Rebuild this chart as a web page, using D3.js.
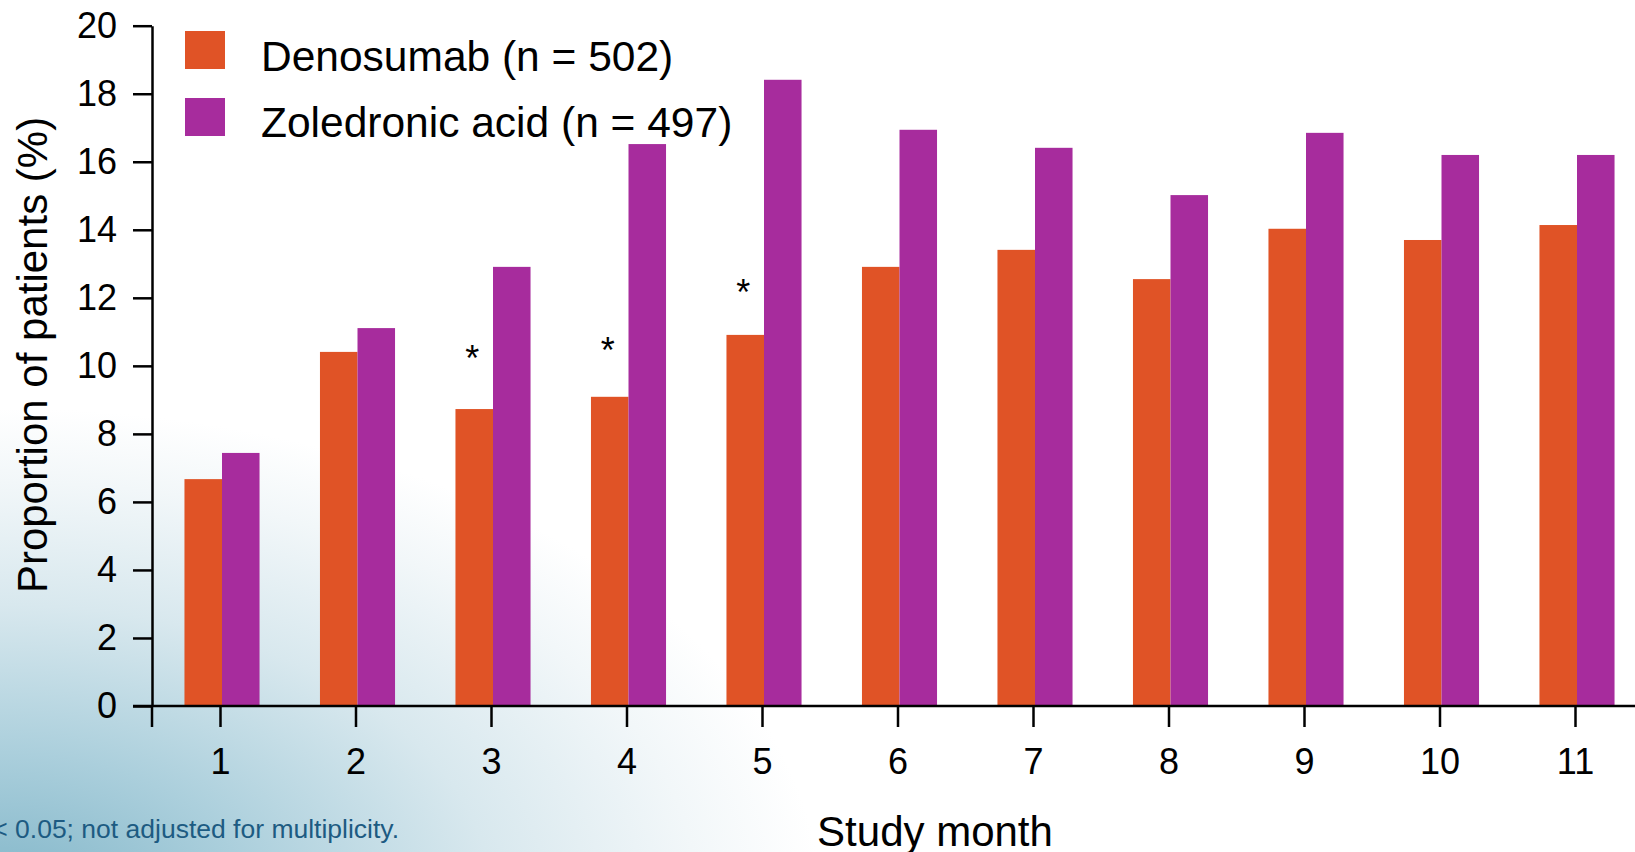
<!DOCTYPE html>
<html>
<head>
<meta charset="utf-8">
<script src="https://cdn.jsdelivr.net/npm/d3@7/dist/d3.min.js"></script>
<style>
  html, body { margin: 0; padding: 0; background: #ffffff; }
  svg { display: block; font-family: "Liberation Sans", Arial, sans-serif; }
</style>
</head>
<body>
<svg id="chart" width="1635" height="852"></svg>
<script>
// Study months on the x axis
const months = ["1", "2", "3", "4", "5", "6", "7", "8", "9", "10", "11"];
// Proportion of patients (%) per month, by treatment arm
const denosumab  = [6.67, 10.41, 8.73, 9.09, 10.91, 12.91, 13.41, 12.55, 14.03, 13.70, 14.14];
const zoledronic = [7.44, 11.11, 12.91, 16.52, 18.41, 16.94, 16.41, 15.02, 16.85, 16.20, 16.20];
const seriesNames = ["Denosumab (n = 502)", "Zoledronic acid (n = 497)"];
const seriesColors = ["#e05326", "#a72c9d"];
const yTicks = [0, 2, 4, 6, 8, 10, 12, 14, 16, 18, 20];
// Months flagged as significant, and the level where each asterisk sits
const sigMonths = ["3", "4", "5"];
const sigLevels = [10.35, 10.59, 12.29];
const footnote = "*P < 0.05; not adjusted for multiplicity.";

const W = 1635, H = 852;
const svg = d3.select("#chart");

// Soft blue wash in the lower-left corner
const defs = svg.append("defs");
const grad = defs.append("radialGradient")
  .attr("id", "wash")
  .attr("gradientUnits", "userSpaceOnUse")
  .attr("cx", 0).attr("cy", 900).attr("r", 820)
  .attr("gradientTransform", "translate(0,900) scale(1,0.6) translate(0,-900)");
[[0, "#80b5c8"], [0.3, "#abcfdc"], [0.6, "#d8e8ee"], [0.85, "#f2f7f9"], [1, "#ffffff"]]
  .forEach(([o, c]) => grad.append("stop").attr("offset", o).attr("stop-color", c));
svg.append("rect").attr("width", W).attr("height", H).attr("fill", "#ffffff");
svg.append("rect").attr("width", W).attr("height", H).attr("fill", "url(#wash)");

const axisX = 152;          // position of the y axis
const y = d3.scaleLinear().domain([0, 20]).range([706, 25.7]);
const x = d3.scalePoint().domain(months).range([222, 1577]);
const bw = x.step() * 0.277;

// Bars
const g = svg.append("g");
g.selectAll("rect.den").data(months).join("rect")
  .attr("class", "den")
  .attr("x", d => x(d) - bw)
  .attr("y", (d, i) => y(denosumab[i]))
  .attr("width", bw)
  .attr("height", (d, i) => y(0) - y(denosumab[i]))
  .attr("fill", seriesColors[0]);
g.selectAll("rect.zol").data(months).join("rect")
  .attr("class", "zol")
  .attr("x", d => x(d))
  .attr("y", (d, i) => y(zoledronic[i]))
  .attr("width", bw)
  .attr("height", (d, i) => y(0) - y(zoledronic[i]))
  .attr("fill", seriesColors[1]);

// Significance asterisks above the denosumab bars
g.selectAll("text.sig").data(sigMonths).join("text")
  .attr("class", "sig")
  .attr("x", d => x(d) - bw / 2 - 2)
  .attr("y", (d, i) => y(sigLevels[i]) + 17)
  .attr("text-anchor", "middle")
  .attr("font-size", 36)
  .attr("fill", "#000")
  .text("*");

// Y axis
const yAxis = svg.append("g")
  .attr("transform", `translate(${axisX},0)`)
  .call(d3.axisLeft(y).tickValues(yTicks).tickFormat(d3.format("d"))
    .tickSize(19).tickSizeOuter(0).tickPadding(16));
yAxis.select(".domain").attr("stroke", "#000").attr("stroke-width", 2.5);
yAxis.selectAll(".tick line").attr("stroke", "#000").attr("stroke-width", 2.5);
yAxis.selectAll(".tick text").attr("font-size", 36).attr("fill", "#000")
  .attr("font-family", "Liberation Sans, Arial, sans-serif");

// X axis: ticks sit just left of each bar pair's split
const xAxis = svg.append("g")
  .attr("transform", `translate(-2,${y(0)})`)
  .call(d3.axisBottom(x).tickSize(21).tickSizeOuter(0).tickPadding(21));
xAxis.select(".domain").remove();
xAxis.append("line")
  .attr("x1", axisX - 17).attr("x2", W + 2)
  .attr("y1", 0).attr("y2", 0)
  .attr("stroke", "#000").attr("stroke-width", 2.5);
xAxis.append("line")
  .attr("x1", axisX + 2).attr("x2", axisX + 2)
  .attr("y1", 0).attr("y2", 21)
  .attr("stroke", "#000").attr("stroke-width", 2.5);
xAxis.selectAll(".tick line").attr("stroke", "#000").attr("stroke-width", 2.5);
xAxis.selectAll(".tick text").attr("font-size", 36).attr("fill", "#000")
  .attr("font-family", "Liberation Sans, Arial, sans-serif");

// Axis titles
svg.append("text")
  .attr("transform", "translate(47,355) rotate(-90)")
  .attr("text-anchor", "middle")
  .attr("font-size", 42)
  .attr("fill", "#000")
  .text("Proportion of patients (%)");
svg.append("text")
  .attr("x", 935).attr("y", 846)
  .attr("text-anchor", "middle")
  .attr("font-size", 42)
  .attr("fill", "#000")
  .text("Study month");

// Legend
const legend = svg.append("g").attr("transform", "translate(185,31)");
seriesNames.forEach((name, i) => {
  legend.append("rect")
    .attr("x", 0).attr("y", i * 67)
    .attr("width", 40).attr("height", 38)
    .attr("fill", seriesColors[i]);
  legend.append("text")
    .attr("x", 76).attr("y", i * 66 + 40)
    .attr("font-size", 42.5)
    .attr("fill", "#000")
    .text(name);
});

// Footnote
svg.append("text")
  .attr("x", 399).attr("y", 838)
  .attr("text-anchor", "end")
  .attr("font-size", 26.5)
  .attr("fill", "#1d5b82")
  .text(footnote);
</script>
</body>
</html>
